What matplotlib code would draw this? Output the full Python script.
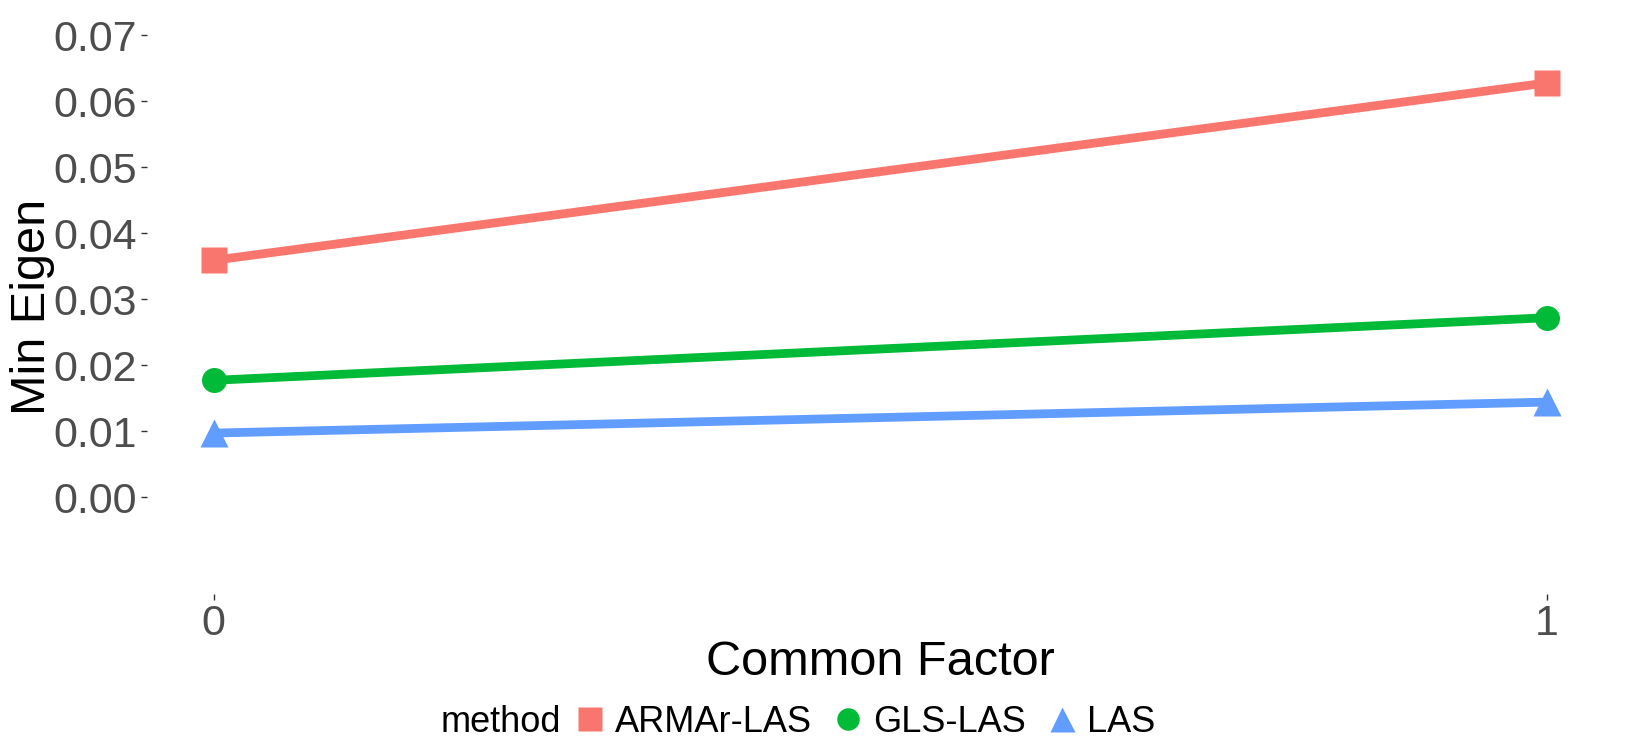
import matplotlib
matplotlib.use("Agg")
import matplotlib.pyplot as plt
from matplotlib.lines import Line2D

plt.rcParams["font.family"] = ["Liberation Sans", "DejaVu Sans"]

# data
common_factor = [0, 1]
methods = ["ARMAr-LAS", "GLS-LAS", "LAS"]
armar_las = [0.0359, 0.0628]
gls_las = [0.0177, 0.0272]
las = [0.0097, 0.0144]
y_ticks = [0.00, 0.01, 0.02, 0.03, 0.04, 0.05, 0.06, 0.07]

COLORS = ["#F8766D", "#00BA38", "#619CFF"]
MARKERS = ["s", "o", "^"]
MSIZES = [19, 18, 20]

fig = plt.figure(figsize=(16.25, 7.5), dpi=100)
ax = fig.add_axes([0.0905, 0.208, 0.9025, 0.765])

series = [armar_las, gls_las, las]
for vals, c, m, ms in zip(series, COLORS, MARKERS, MSIZES):
    ax.plot(common_factor, vals, color=c, lw=6.3, solid_capstyle="butt")
    ax.plot(common_factor, vals, ls="none", marker=m, ms=ms, color=c, mec="none")

ax.set_xlim(-0.05, 1.05)
ax.set_ylim(-0.0147, 0.0723)
ax.set_xticks(common_factor)
ax.set_xticklabels([str(v) for v in common_factor])
ax.set_yticks(y_ticks)
ax.set_yticklabels([f"{v:.2f}" for v in y_ticks])
for s in ax.spines.values():
    s.set_visible(False)
ax.tick_params(axis="both", length=4, width=1, color="#333333",
               labelsize=31, labelcolor="#4D4D4D", pad=3)

ax.set_xlabel("Common Factor", fontsize=35, color="black", va="center")
ax.xaxis.set_label_coords(0.5, -0.12)
ax.set_ylabel("Min Eigen", fontsize=35, color="black", va="center")
ax.yaxis.set_label_coords(-0.078, 0.5)

# legend at the bottom, horizontal, title on the left
fig.text(0.271, 0.037, "method", fontsize=26, ha="left", va="center")
handles = [Line2D([], [], ls="none", marker=m, ms=ms * 0.9, color=c, mec="none")
           for c, m, ms in zip(COLORS, MARKERS, MSIZES)]
fig.legend(handles, methods, loc="center left", bbox_to_anchor=(0.354, 0.037),
           ncol=3, frameon=False, fontsize=26, handlelength=0.8,
           handletextpad=0.3, columnspacing=0.6, borderpad=0, borderaxespad=0)

fig.savefig("out.png", dpi=100)
